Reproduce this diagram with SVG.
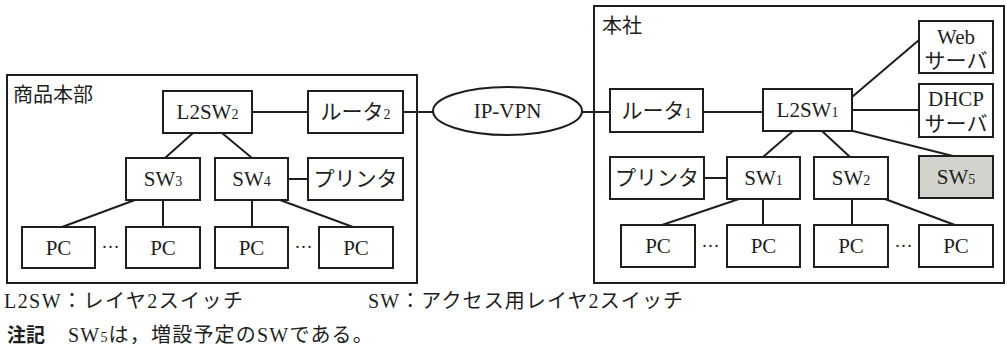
<svg xmlns="http://www.w3.org/2000/svg" width="1007" height="347" viewBox="0 0 1007 347">
<style>
.box{fill:#fff;stroke:#1e1e1e;stroke-width:2}
.area{fill:none;stroke:#1e1e1e;stroke-width:2}
.gray{fill:#d3d3cd;stroke:#1e1e1e;stroke-width:2}
.t{font-family:"Liberation Serif","Noto Sans CJK JP",serif;font-size:21px;fill:#1e1e1e;text-anchor:middle}
.l{font-family:"Liberation Serif","Noto Sans CJK JP",serif;font-size:20px;fill:#1e1e1e}
.dot{font-family:"Liberation Serif",serif;font-size:18px;fill:#1e1e1e;text-anchor:middle}
.sub{font-size:14px}
#connectors line{stroke:#1e1e1e;stroke-width:2}
</style>
<rect width="1007" height="347" fill="#fff"/>

<g id="area-shohin">
<rect class="area" x="7" y="75" width="410" height="208"/>
<text class="l" x="13" y="102" font-size="19">商品本部</text>
</g>
<g id="area-honsha">
<rect class="area" x="594" y="6" width="410" height="277"/>
<text class="l" x="602" y="33" font-size="19">本社</text>
</g>

<g id="connectors">
<line x1="252" y1="112" x2="308" y2="112"/>
<line x1="403" y1="112" x2="433" y2="112"/>
<line x1="193" y1="133" x2="165" y2="158"/>
<line x1="222" y1="133" x2="252" y2="158"/>
<line x1="288" y1="179" x2="308" y2="179"/>
<line x1="135" y1="200" x2="62" y2="227"/>
<line x1="163" y1="200" x2="163" y2="227"/>
<line x1="252" y1="200" x2="252" y2="227"/>
<line x1="280" y1="200" x2="353" y2="227"/>
<line x1="582" y1="112" x2="610" y2="112"/>
<line x1="703" y1="112" x2="763" y2="112"/>
<line x1="852" y1="97" x2="919" y2="40"/>
<line x1="852" y1="110" x2="919" y2="110"/>
<line x1="853" y1="131" x2="953" y2="156"/>
<line x1="793" y1="131" x2="763" y2="157"/>
<line x1="822" y1="131" x2="850" y2="157"/>
<line x1="704" y1="178" x2="727" y2="178"/>
<line x1="739" y1="199" x2="662" y2="225"/>
<line x1="763" y1="199" x2="763" y2="225"/>
<line x1="852" y1="199" x2="852" y2="225"/>
<line x1="885" y1="199" x2="955" y2="225"/>
</g>

<g id="ipvpn">
<ellipse class="box" cx="507.5" cy="111" rx="74.5" ry="24"/>
<text class="t" x="507.5" y="118">IP-VPN</text>
</g>

<g id="l2sw2"><rect class="box" x="163" y="91" width="89" height="42"/><text class="t" x="207.5" y="119">L2SW<tspan class="sub">2</tspan></text></g>
<g id="router2"><rect class="box" x="308" y="91" width="95" height="42"/><text class="t" x="355.5" y="119">ルータ<tspan class="sub">2</tspan></text></g>
<g id="sw3"><rect class="box" x="126" y="158" width="74" height="42"/><text class="t" x="163" y="186">SW<tspan class="sub">3</tspan></text></g>
<g id="sw4"><rect class="box" x="215" y="158" width="73" height="42"/><text class="t" x="251.5" y="186">SW<tspan class="sub">4</tspan></text></g>
<g id="printer2"><rect class="box" x="308" y="158" width="95" height="42"/><text class="t" x="355.5" y="186">プリンタ</text></g>
<g id="pc-l1"><rect class="box" x="22" y="227" width="73" height="41"/><text class="t" x="58.5" y="255">PC</text></g>
<g id="pc-l2"><rect class="box" x="126" y="227" width="74" height="41"/><text class="t" x="163" y="255">PC</text></g>
<g id="pc-l3"><rect class="box" x="215" y="227" width="73" height="41"/><text class="t" x="251.5" y="255">PC</text></g>
<g id="pc-l4"><rect class="box" x="319" y="227" width="74" height="41"/><text class="t" x="356" y="255">PC</text></g>
<g id="dots-l"><text class="dot" x="110.5" y="248">…</text><text class="dot" x="303.5" y="248">…</text></g>

<g id="router1"><rect class="box" x="610" y="89" width="93" height="43"/><text class="t" x="656.5" y="118">ルータ<tspan class="sub">1</tspan></text></g>
<g id="l2sw1"><rect class="box" x="763" y="89" width="89" height="42"/><text class="t" x="807.5" y="117">L2SW<tspan class="sub">1</tspan></text></g>
<g id="web"><rect class="box" x="919" y="21" width="74" height="52"/><text class="t" x="956" y="44">Web</text><text class="t" x="956" y="68">サーバ</text></g>
<g id="dhcp"><rect class="box" x="919" y="84" width="74" height="53"/><text class="t" x="956" y="106">DHCP</text><text class="t" x="956" y="131">サーバ</text></g>
<g id="printer1"><rect class="box" x="610" y="157" width="94" height="42"/><text class="t" x="657" y="185">プリンタ</text></g>
<g id="sw1"><rect class="box" x="727" y="157" width="73" height="42"/><text class="t" x="763.5" y="185">SW<tspan class="sub">1</tspan></text></g>
<g id="sw2"><rect class="box" x="814" y="157" width="74" height="42"/><text class="t" x="851" y="185">SW<tspan class="sub">2</tspan></text></g>
<g id="sw5"><rect class="gray" x="919" y="156" width="74" height="42"/><text class="t" x="956" y="184">SW<tspan class="sub">5</tspan></text></g>
<g id="pc-r1"><rect class="box" x="621" y="225" width="74" height="42"/><text class="t" x="658" y="253">PC</text></g>
<g id="pc-r2"><rect class="box" x="727" y="225" width="73" height="42"/><text class="t" x="763.5" y="253">PC</text></g>
<g id="pc-r3"><rect class="box" x="814" y="225" width="74" height="42"/><text class="t" x="851" y="253">PC</text></g>
<g id="pc-r4"><rect class="box" x="919" y="225" width="74" height="42"/><text class="t" x="956" y="253">PC</text></g>
<g id="dots-r"><text class="dot" x="710.5" y="247">…</text><text class="dot" x="903.5" y="247">…</text></g>

<g id="legend">
<text class="l" x="4" y="308" font-size="21" textLength="239" lengthAdjust="spacing">L2SW：レイヤ2スイッチ</text>
<text class="l" x="368" y="308" font-size="21" textLength="315" lengthAdjust="spacing">SW：アクセス用レイヤ2スイッチ</text>
<text x="7" y="342" style="font-family:'Noto Sans CJK JP',sans-serif;font-weight:bold;font-size:19px;fill:#1e1e1e">注記</text>
<text class="l" x="68" y="342" font-size="20" letter-spacing="1.2">SW<tspan class="sub">5</tspan>は，増設予定のSWである。</text>
</g>
</svg>
